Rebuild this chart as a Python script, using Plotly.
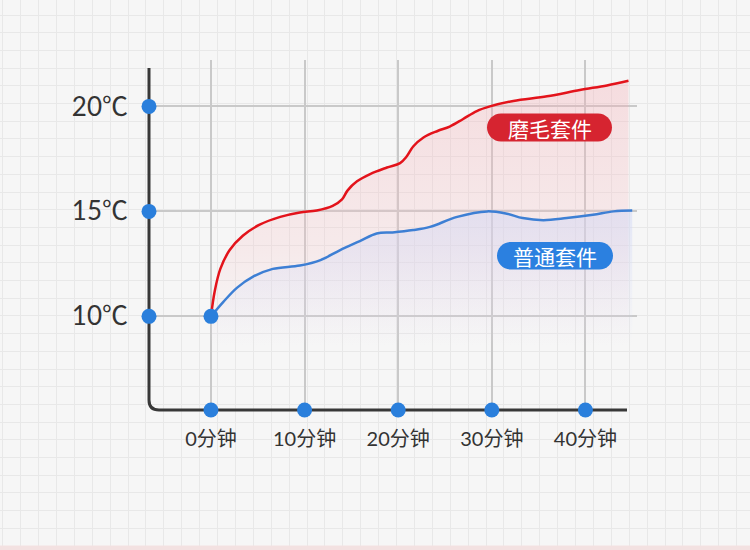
import plotly.graph_objects as go

# ---------------- data ----------------
x_ticks = [0, 10, 20, 30, 40]
x_labels = ["0分钟", "10分钟", "20分钟", "30分钟", "40分钟"]
y_ticks = [10, 15, 20]
y_labels = ["10℃", "15℃", "20℃"]

red_name = "磨毛套件"
red_min = [0, 0.4, 1.0, 2.0, 3.4, 5.2, 7.4, 9.5, 11.3, 13.0, 14.0, 14.6, 15.6, 17.0,
           18.8, 20.2, 20.9, 21.6, 22.7, 24.2, 25.5, 26.9, 28.4, 29.8, 32.3, 35.9,
           39.4, 42.3, 44.6]
red_temp = [10.0, 11.2, 12.26, 13.16, 13.84, 14.37, 14.74, 14.95, 15.04, 15.26, 15.57,
            16.0, 16.43, 16.78, 17.09, 17.3, 17.61, 18.09, 18.52, 18.83, 19.04, 19.39,
            19.78, 20.0, 20.26, 20.48, 20.78, 21.0, 21.22]

blue_name = "普通套件"
blue_min = [0, 1.3, 2.8, 4.5, 6.6, 9.5, 11.7, 13.8, 15.9, 17.7, 19.4, 21.6, 23.4, 26.3,
            29.5, 31.6, 33.3, 35.5, 38.0, 40.8, 43.0, 45.0]
blue_temp = [10.0, 10.68, 11.37, 11.89, 12.26, 12.42, 12.68, 13.16, 13.58, 13.95, 14.0,
             14.11, 14.26, 14.74, 15.0, 14.89, 14.68, 14.58, 14.68, 14.84, 15.0, 15.04]

# ---------------- layout constants ----------------
W, H = 750, 550
X_RANGE = [-6.62, 45.51]
Y_RANGE = [5.54, 22.21]
DOM_X = [149 / W, 637 / W]
DOM_Y = [(H - 410) / H, (H - 60) / H]

RED = "#e3131b"
BLUE_LINE = "#3d7fd4"
DOT = "#2a7fdc"
FONT = "Lato, 'Noto Sans CJK SC', sans-serif"

fig = go.Figure()

# red curve with fill
fig.add_trace(go.Scatter(
    x=red_min, y=red_temp, xaxis="x2", yaxis="y2", mode="lines",
    line=dict(color=RED, width=2.5, shape="spline", smoothing=1.0),
    fill="tozeroy",
    fillgradient=dict(type="vertical", start=8.6, stop=21.2,
                      colorscale=[[0, "rgba(248,210,214,0)"], [0.35, "rgba(246,196,200,0.24)"],
                                  [1, "rgba(244,170,178,0.34)"]]),
    hoverinfo="skip", showlegend=False))

# blue curve with fill
fig.add_trace(go.Scatter(
    x=blue_min, y=blue_temp, xaxis="x2", yaxis="y2", mode="lines",
    line=dict(color=BLUE_LINE, width=2.5, shape="spline", smoothing=1.0),
    fill="tozeroy",
    fillgradient=dict(type="vertical", start=8.6, stop=15.0,
                      colorscale=[[0, "rgba(215,220,248,0)"], [1, "rgba(208,214,245,0.5)"]]),
    hoverinfo="skip", showlegend=False))

# dots on axes and at origin
dot_x = [X_RANGE[0]] * len(y_ticks) + x_ticks + [0]
dot_y = y_ticks + [Y_RANGE[0]] * len(x_ticks) + [10]
fig.add_trace(go.Scatter(
    x=dot_x, y=dot_y, xaxis="x2", yaxis="y2", mode="markers",
    marker=dict(size=15, color=DOT, line=dict(width=0)),
    cliponaxis=False, hoverinfo="skip", showlegend=False))


def pill(x0, x1, y0, y1):
    r = (y1 - y0) / 2
    cy = (y0 + y1) / 2
    k = 0.5523 * r
    return (f"M {x0 + r},{y0} L {x1 - r},{y0} "
            f"C {x1 - r + k},{y0} {x1},{cy - k} {x1},{cy} "
            f"C {x1},{cy + k} {x1 - r + k},{y1} {x1 - r},{y1} "
            f"L {x0 + r},{y1} "
            f"C {x0 + r - k},{y1} {x0},{cy + k} {x0},{cy} "
            f"C {x0},{cy - k} {x0 + r - k},{y0} {x0 + r},{y0} Z")


shapes = [
    # axis lines with rounded corner (pixel coordinates on background axes)
    dict(type="path", xref="x", yref="y", layer="between",
         path="M 149,68 L 149,400 Q 149,410 159,410 L 627,410",
         line=dict(color="#383838", width=3)),
    # bottom pink strip
    dict(type="rect", xref="x", yref="y", layer="between", x0=0, x1=750, y0=545.5, y1=550,
         fillcolor="#f3e1e1", line=dict(width=0)),
    # pills
    dict(type="path", xref="x", yref="y", layer="above", path=pill(487, 612, 113.5, 141.5),
         fillcolor="#d62430", line=dict(width=0)),
    dict(type="path", xref="x", yref="y", layer="above", path=pill(497, 613, 242, 269.5),
         fillcolor="#2b80e0", line=dict(width=0)),
]

annotations = [
    dict(x=549.5, y=127.5, xref="x", yref="y", text=red_name, showarrow=False,
         font=dict(family="'Noto Sans CJK SC', sans-serif", size=21, color="white")),
    dict(x=555, y=255.8, xref="x", yref="y", text=blue_name, showarrow=False,
         font=dict(family="'Noto Sans CJK SC', sans-serif", size=21, color="white")),
]

fig.update_layout(
    width=W, height=H, margin=dict(l=0, r=0, t=0, b=0),
    paper_bgcolor="#f6f6f6", plot_bgcolor="rgba(0,0,0,0)",
    showlegend=False, shapes=shapes, annotations=annotations,
    xaxis=dict(domain=[0, 1], range=[0, W], tick0=2.7, dtick=17.9, showgrid=True,
               gridcolor="#e8e8e8", gridwidth=1, zeroline=False, showticklabels=False,
               ticks="", fixedrange=True),
    yaxis=dict(domain=[0, 1], range=[H, 0], tick0=15, dtick=17.7, showgrid=True,
               gridcolor="#e8e8e8", gridwidth=1, zeroline=False, showticklabels=False,
               ticks="", fixedrange=True),
    xaxis2=dict(domain=DOM_X, range=X_RANGE, anchor="y2", tickvals=x_ticks, ticktext=x_labels,
                showgrid=True, gridcolor="#c9c9c9", gridwidth=1.5, zeroline=False,
                showline=False, ticks="", ticklabelstandoff=15, fixedrange=True,
                tickfont=dict(family=FONT, size=20, color="#333333")),
    yaxis2=dict(domain=DOM_Y, range=Y_RANGE, anchor="x2", tickvals=y_ticks, ticktext=y_labels,
                showgrid=True, gridcolor="#c9c9c9", gridwidth=1.5, zeroline=False,
                showline=False, ticks="", ticklabelstandoff=20, fixedrange=True,
                tickfont=dict(family=FONT, size=26, color="#333333")),
)

fig.write_html("out.html", config={"displayModeBar": False},
               post_script="document.body.style.margin='0px';")
